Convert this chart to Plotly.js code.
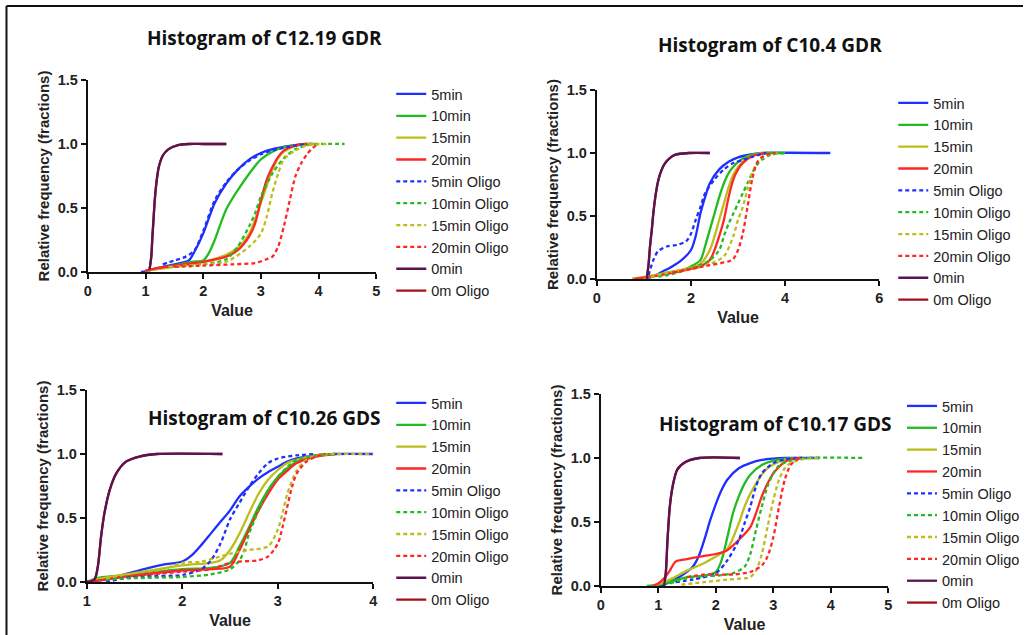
<!DOCTYPE html>
<html><head><meta charset="utf-8">
<script src="https://cdn.plot.ly/plotly-3.0.1.min.js"></script>
<style>html,body{margin:0;padding:0;background:#fff;overflow:hidden}#chart{width:1025px;height:635px}</style>
</head><body><div id="chart"></div>
<script>
// ---------- labels ----------
const seriesNames = ['5min','10min','15min','20min','5min Oligo','10min Oligo','15min Oligo','20min Oligo','0min','0m Oligo'];
const panelTitles = ['Histogram of C12.19 GDR','Histogram of C10.4 GDR','Histogram of C10.26 GDS','Histogram of C10.17 GDS'];
const xAxisTitle = 'Value';
const yAxisTitle = 'Relative frequency (fractions)';
const xTicks1 = [0,1,2,3,4,5];
const xTicks2 = [0,2,4,6];
const xTicks3 = [1,2,3,4];
const xTicks4 = [0,1,2,3,4,5];
const yTicks = [0,0.5,1.0,1.5];

// ---------- Panel 1: C12.19 GDR ----------
const c1219_m5_x  = [0.92,1.0,1.2,1.4,1.6,1.75,1.85,2.0,2.2,2.4,2.6,2.8,3.0,3.2,3.5,3.8,3.9];
const c1219_m5_y  = [0,0.005,0.03,0.05,0.07,0.09,0.16,0.30,0.54,0.69,0.80,0.88,0.93,0.96,0.985,1.0,1.0];
const c1219_m10_x = [1.0,1.5,1.8,2.0,2.1,2.2,2.4,2.6,2.8,3.0,3.2,3.4,3.7,3.9];
const c1219_m10_y = [0.01,0.05,0.08,0.09,0.15,0.25,0.49,0.64,0.77,0.88,0.94,0.975,0.995,1.0];
const c1219_m15_x = [1.0,1.5,2.0,2.4,2.6,2.8,2.9,3.0,3.1,3.2,3.3,3.4,3.6,3.8,4.0];
const c1219_m15_y = [0.01,0.04,0.08,0.135,0.19,0.30,0.41,0.54,0.67,0.80,0.89,0.94,0.985,1.0,1.0];
const c1219_m20_x = [1.0,1.2,1.5,2.0,2.4,2.6,2.8,2.9,3.0,3.1,3.2,3.3,3.4,3.6,3.8];
const c1219_m20_y = [0.01,0.03,0.05,0.08,0.12,0.17,0.28,0.38,0.56,0.72,0.82,0.90,0.95,0.99,1.0];
const c1219_o5_x  = [1.3,1.5,1.7,1.85,2.0,2.2,2.4,2.6,2.8,3.0,3.2,3.5,3.8];
const c1219_o5_y  = [0.06,0.09,0.12,0.17,0.32,0.56,0.70,0.80,0.87,0.92,0.95,0.98,1.0];
const c1219_o10_x = [1.4,2.0,2.4,2.6,2.8,2.9,3.0,3.2,3.4,3.6,3.8,4.0,4.45];
const c1219_o10_y = [0.04,0.06,0.10,0.20,0.36,0.46,0.59,0.77,0.89,0.96,0.99,1.0,1.0];
const c1219_o15_x = [1.4,2.0,2.4,2.8,3.0,3.1,3.2,3.3,3.4,3.6,3.8,4.2];
const c1219_o15_y = [0.04,0.06,0.08,0.20,0.30,0.43,0.62,0.77,0.88,0.95,0.99,1.0];
const c1219_o20_x = [1.5,2.0,2.5,2.9,3.1,3.2,3.3,3.4,3.5,3.6,3.7,3.8,3.9,4.0];
const c1219_o20_y = [0.04,0.05,0.06,0.07,0.10,0.12,0.20,0.36,0.56,0.75,0.85,0.92,0.97,1.0];
const c1219_m0_x  = [1.07,1.10,1.12,1.14,1.16,1.19,1.23,1.30,1.40,1.55,1.75,2.0,2.4];
const c1219_m0_y  = [0.02,0.12,0.28,0.42,0.56,0.70,0.82,0.91,0.96,0.99,1.0,1.0,1.0];
const c1219_o0_x  = [1.07,1.10,1.12,1.14,1.16,1.19,1.23,1.30,1.40,1.55,1.75,2.0,2.4];
const c1219_o0_y  = [0.02,0.12,0.28,0.42,0.56,0.70,0.82,0.91,0.96,0.99,1.0,1.0,1.0];

// ---------- Panel 2: C10.4 GDR ----------
const c104_m5_x  = [0.96,1.2,1.4,1.6,1.8,2.0,2.1,2.2,2.3,2.4,2.6,2.8,3.0,3.3,3.6,4.96];
const c104_m5_y  = [0,0.02,0.06,0.10,0.15,0.23,0.34,0.52,0.65,0.76,0.87,0.93,0.965,0.99,1.0,1.0];
const c104_m10_x = [0.75,1.2,1.5,1.8,2.0,2.2,2.3,2.4,2.5,2.6,2.7,2.8,2.9,3.0,3.2,3.5,4.0];
const c104_m10_y = [0,0.02,0.05,0.07,0.10,0.15,0.26,0.39,0.52,0.65,0.76,0.84,0.89,0.93,0.975,1.0,1.0];
const c104_m15_x = [0.75,1.5,2.0,2.2,2.4,2.5,2.6,2.7,2.8,2.9,3.0,3.2,3.5];
const c104_m15_y = [0,0.05,0.09,0.12,0.23,0.34,0.47,0.60,0.73,0.83,0.89,0.96,1.0];
const c104_m20_x = [0.8,1.5,2.0,2.2,2.4,2.5,2.6,2.7,2.8,2.9,3.0,3.1,3.3,3.6];
const c104_m20_y = [0,0.04,0.08,0.10,0.15,0.23,0.34,0.47,0.65,0.79,0.87,0.92,0.975,1.0];
const c104_o5_x  = [1.1,1.2,1.3,1.5,1.7,1.9,2.0,2.1,2.2,2.3,2.5,2.7,2.9,3.1,3.3,3.6];
const c104_o5_y  = [0.03,0.15,0.22,0.26,0.27,0.30,0.36,0.47,0.57,0.68,0.79,0.87,0.92,0.945,0.97,1.0];
const c104_o10_x = [1.3,1.5,2.0,2.4,2.6,2.7,2.8,2.9,3.0,3.1,3.2,3.3,3.4,3.5,3.7,4.0];
const c104_o10_y = [0.02,0.03,0.085,0.15,0.23,0.34,0.44,0.52,0.60,0.68,0.76,0.84,0.905,0.945,0.985,1.0];
const c104_o15_x = [1.0,1.5,2.0,2.4,2.7,2.9,3.0,3.1,3.2,3.3,3.4,3.5,3.7,3.9];
const c104_o15_y = [0,0.05,0.08,0.12,0.18,0.34,0.47,0.57,0.71,0.84,0.92,0.96,0.99,1.0];
const c104_o20_x = [1.6,2.0,2.4,2.8,2.9,3.0,3.1,3.2,3.3,3.4,3.5,3.6,3.8];
const c104_o20_y = [0.05,0.08,0.11,0.14,0.16,0.23,0.36,0.57,0.79,0.92,0.965,0.985,1.0];
const c104_m0_x  = [1.06,1.10,1.13,1.17,1.20,1.25,1.31,1.38,1.45,1.55,1.66,1.95,2.4];
const c104_m0_y  = [0,0.12,0.26,0.40,0.52,0.67,0.79,0.87,0.92,0.96,0.985,1.0,1.0];
const c104_o0_x  = [1.06,1.10,1.13,1.17,1.20,1.25,1.31,1.38,1.45,1.55,1.66,1.95,2.4];
const c104_o0_y  = [0,0.12,0.26,0.40,0.52,0.67,0.79,0.87,0.92,0.96,0.985,1.0,1.0];

// ---------- Panel 3: C10.26 GDS ----------
const c1026_m5_x  = [1.0,1.2,1.4,1.6,1.8,2.0,2.1,2.2,2.3,2.4,2.5,2.6,2.7,2.8,2.9,3.0,3.1,3.2,3.4,3.6,4.0];
const c1026_m5_y  = [0,0.02,0.06,0.10,0.135,0.16,0.21,0.29,0.38,0.47,0.56,0.67,0.745,0.81,0.86,0.90,0.94,0.965,0.99,1.0,1.0];
const c1026_m10_x = [1.0,1.1,1.5,2.0,2.3,2.5,2.6,2.7,2.8,2.9,3.0,3.1,3.2,3.4,3.6];
const c1026_m10_y = [0,0.03,0.06,0.10,0.11,0.15,0.28,0.43,0.59,0.72,0.82,0.89,0.94,0.985,1.0];
const c1026_m15_x = [1.0,1.1,1.5,2.0,2.3,2.4,2.5,2.6,2.7,2.8,2.9,3.0,3.1,3.3,3.5];
const c1026_m15_y = [0,0.02,0.07,0.13,0.15,0.17,0.25,0.38,0.54,0.69,0.80,0.875,0.93,0.975,1.0];
const c1026_m20_x = [1.0,1.5,2.0,2.3,2.5,2.6,2.7,2.8,2.9,3.0,3.1,3.2,3.4,3.6];
const c1026_m20_y = [0,0.05,0.09,0.10,0.12,0.25,0.41,0.56,0.69,0.80,0.87,0.93,0.98,1.0];
const c1026_o5_x  = [1.2,1.4,1.6,2.0,2.2,2.3,2.4,2.5,2.6,2.7,2.8,2.9,3.0,3.2,3.4];
const c1026_o5_y  = [0,0.03,0.045,0.055,0.10,0.17,0.30,0.49,0.62,0.745,0.85,0.93,0.965,0.99,1.0];
const c1026_o10_x = [1.2,1.5,2.0,2.3,2.5,2.6,2.65,2.7,2.8,2.9,3.0,3.1,3.2,3.4,3.6];
const c1026_o10_y = [0.02,0.03,0.04,0.06,0.10,0.17,0.25,0.38,0.56,0.72,0.82,0.90,0.955,0.99,1.0];
const c1026_o15_x = [1.2,1.5,1.8,2.0,2.2,2.5,2.7,2.9,3.0,3.05,3.1,3.2,3.3,3.4,3.6,4.0];
const c1026_o15_y = [0.03,0.07,0.10,0.15,0.16,0.22,0.25,0.28,0.41,0.54,0.69,0.875,0.955,0.985,1.0,1.0];
const c1026_o20_x = [1.5,2.0,2.3,2.5,2.6,2.8,2.9,3.0,3.05,3.1,3.15,3.2,3.3,3.4,3.5];
const c1026_o20_y = [0.05,0.08,0.10,0.15,0.16,0.17,0.20,0.30,0.43,0.59,0.745,0.85,0.94,0.98,1.0];
const c1026_m0_x  = [1.0,1.08,1.115,1.15,1.185,1.24,1.31,1.41,1.55,1.73,2.42];
const c1026_m0_y  = [0,0.02,0.12,0.36,0.54,0.72,0.85,0.94,0.98,1.0,1.0];
const c1026_o0_x  = [1.0,1.08,1.115,1.15,1.185,1.24,1.31,1.41,1.55,1.73,2.42];
const c1026_o0_y  = [0,0.02,0.12,0.36,0.54,0.72,0.85,0.94,0.98,1.0,1.0];

// ---------- Panel 4: C10.17 GDS ----------
const c1017_m5_x  = [1.01,1.2,1.4,1.6,1.7,1.8,1.9,2.0,2.1,2.2,2.4,2.6,2.8,3.0,3.2,3.8];
const c1017_m5_y  = [0,0.03,0.08,0.15,0.23,0.36,0.51,0.64,0.75,0.83,0.92,0.96,0.985,0.995,1.0,1.0];
const c1017_m10_x = [0.8,1.0,1.2,1.5,1.8,2.0,2.1,2.2,2.3,2.4,2.5,2.6,2.8,3.0,3.2,3.4];
const c1017_m10_y = [0,0.01,0.03,0.07,0.08,0.11,0.20,0.38,0.57,0.70,0.80,0.87,0.945,0.98,0.995,1.0];
const c1017_m15_x = [0.9,1.2,1.5,1.8,2.0,2.2,2.4,2.5,2.6,2.7,2.8,2.9,3.0,3.2,3.5];
const c1017_m15_y = [0,0.05,0.12,0.18,0.23,0.29,0.49,0.62,0.72,0.80,0.87,0.92,0.95,0.985,1.0];
const c1017_m20_x = [0.9,1.0,1.1,1.2,1.3,1.5,1.8,2.0,2.2,2.4,2.6,2.7,2.8,2.9,3.0,3.1,3.2,3.3,3.5];
const c1017_m20_y = [0,0.02,0.06,0.12,0.19,0.21,0.235,0.25,0.28,0.36,0.46,0.57,0.70,0.80,0.88,0.93,0.97,0.99,1.0];
const c1017_o5_x  = [1.3,1.6,2.0,2.2,2.4,2.5,2.6,2.7,2.8,3.0,3.2,3.5];
const c1017_o5_y  = [0.03,0.05,0.10,0.20,0.36,0.49,0.62,0.78,0.88,0.96,0.99,1.0];
const c1017_o10_x = [1.2,1.5,1.8,2.0,2.3,2.5,2.6,2.7,2.8,2.9,3.0,3.1,3.3,3.6,4.58];
const c1017_o10_y = [0.02,0.06,0.08,0.08,0.10,0.15,0.25,0.44,0.62,0.78,0.88,0.94,0.98,1.0,1.0];
const c1017_o15_x = [1.4,1.8,2.2,2.5,2.6,2.7,2.8,2.9,3.0,3.1,3.2,3.3,3.5,3.8];
const c1017_o15_y = [0.01,0.03,0.05,0.06,0.07,0.12,0.25,0.46,0.67,0.83,0.92,0.96,0.99,1.0];
const c1017_o20_x = [1.5,1.8,2.0,2.3,2.6,2.8,2.9,3.0,3.1,3.2,3.3,3.4,3.5];
const c1017_o20_y = [0.07,0.09,0.09,0.09,0.11,0.16,0.23,0.38,0.62,0.83,0.945,0.985,1.0];
const c1017_m0_x  = [1.1,1.13,1.16,1.2,1.25,1.33,1.48,1.71,2.42];
const c1017_m0_y  = [0,0.10,0.36,0.62,0.78,0.91,0.97,1.0,1.0];
const c1017_o0_x  = [1.1,1.13,1.16,1.2,1.25,1.33,1.48,1.71,2.42];
const c1017_o0_y  = [0,0.10,0.36,0.62,0.78,0.91,0.97,1.0,1.0];

// ---------- assemble per panel (order = seriesNames) ----------
const panelX = [
  [c1219_m5_x,c1219_m10_x,c1219_m15_x,c1219_m20_x,c1219_o5_x,c1219_o10_x,c1219_o15_x,c1219_o20_x,c1219_m0_x,c1219_o0_x],
  [c104_m5_x,c104_m10_x,c104_m15_x,c104_m20_x,c104_o5_x,c104_o10_x,c104_o15_x,c104_o20_x,c104_m0_x,c104_o0_x],
  [c1026_m5_x,c1026_m10_x,c1026_m15_x,c1026_m20_x,c1026_o5_x,c1026_o10_x,c1026_o15_x,c1026_o20_x,c1026_m0_x,c1026_o0_x],
  [c1017_m5_x,c1017_m10_x,c1017_m15_x,c1017_m20_x,c1017_o5_x,c1017_o10_x,c1017_o15_x,c1017_o20_x,c1017_m0_x,c1017_o0_x]
];
const panelY = [
  [c1219_m5_y,c1219_m10_y,c1219_m15_y,c1219_m20_y,c1219_o5_y,c1219_o10_y,c1219_o15_y,c1219_o20_y,c1219_m0_y,c1219_o0_y],
  [c104_m5_y,c104_m10_y,c104_m15_y,c104_m20_y,c104_o5_y,c104_o10_y,c104_o15_y,c104_o20_y,c104_m0_y,c104_o0_y],
  [c1026_m5_y,c1026_m10_y,c1026_m15_y,c1026_m20_y,c1026_o5_y,c1026_o10_y,c1026_o15_y,c1026_o20_y,c1026_m0_y,c1026_o0_y],
  [c1017_m5_y,c1017_m10_y,c1017_m15_y,c1017_m20_y,c1017_o5_y,c1017_o10_y,c1017_o15_y,c1017_o20_y,c1017_m0_y,c1017_o0_y]
];
const panelXTicks = [xTicks1,xTicks2,xTicks3,xTicks4];

// ---------- styles & layout geometry ----------
const W = 1025, H = 635;
const lineColors = ['#1f2fff','#22bb22','#bdbd1c','#ff2626','#1f2fff','#22bb22','#bdbd1c','#ff2626','#5a1450','#a0101c'];
const lineDash = ['solid','solid','solid','solid','4px,3px','4px,3px','4px,3px','4px,3px','solid','solid'];
const geo = [
  {x0:88, x1:377, yTop:80, yBot:272, title:[265,38], legend:[392,78]},
  {x0:598,x1:881, yTop:90, yBot:279, title:[772,45], legend:[895,87]},
  {x0:87, x1:374, yTop:390,yBot:582, title:[265,418], legend:[392,387]},
  {x0:602,x1:890, yTop:394,yBot:586, title:[777,424], legend:[904,390]}
];
const px = v => v / W, py = v => 1 - v / H;
const drawOrder = [9,0,1,2,3,4,5,6,7,8];
const sansFont = 'Liberation Sans, Arial, sans-serif';

const traces = [];
const layout = {
  width: W, height: H, margin: {l:0,r:0,t:0,b:0},
  paper_bgcolor: '#fff', plot_bgcolor: 'rgba(0,0,0,0)',
  showlegend: true, annotations: [], shapes: []
};
const tickFont = {family:sansFont, size:14.5, color:'#222', weight:'bold'};
for (let p = 0; p < 4; p++) {
  const sfx = p === 0 ? '' : String(p + 1);
  const g = geo[p];
  const legName = 'legend' + sfx;
  drawOrder.forEach(i => {
    traces.push({
      type:'scatter', mode:'lines', name: seriesNames[i],
      x: panelX[p][i], y: panelY[p][i],
      xaxis: 'x' + sfx, yaxis: 'y' + sfx, legend: legName, legendrank: i + 1,
      line: {color: lineColors[i], width: 2.3, dash: lineDash[i], shape:'spline', smoothing:0.8},
      hoverinfo: 'skip'
    });
  });
  const xt = panelXTicks[p];
  layout['xaxis' + sfx] = {
    domain: [px(g.x0), px(g.x1)], range: [xt[0], xt[xt.length-1]], anchor: 'y' + sfx,
    tickvals: xt, ticktext: xt.map(String), showgrid:false, zeroline:false,
    showline:true, linecolor:'#111', linewidth:2, ticks:'outside', ticklen:5, tickwidth:2, tickcolor:'#111',
    tickfont: tickFont, fixedrange:true,
    title: {text: xAxisTitle, font:{family:sansFont, size:16, color:'#222', weight:'bold'}, standoff:6}
  };
  layout['yaxis' + sfx] = {
    domain: [py(g.yBot), py(g.yTop)], range: [0, 1.5], anchor: 'x' + sfx,
    tickvals: yTicks, tickformat: '.1f', showgrid:false, zeroline:false,
    showline:true, linecolor:'#111', linewidth:2, ticks:'outside', ticklen:5, tickwidth:2, tickcolor:'#111',
    tickfont: tickFont, fixedrange:true,
    title: {text: yAxisTitle, font:{family:sansFont, size:15, color:'#222', weight:'bold'}, standoff:5}
  };
  layout[legName] = {
    x: px(g.legend[0]), y: py(g.legend[1]), xanchor:'left', yanchor:'top',
    bgcolor:'rgba(0,0,0,0)', borderwidth:0,
    font: {family:sansFont, size:14.5, color:'#222'},
    tracegroupgap: 0, traceorder:'normal'
  };
  layout.annotations.push({
    text: panelTitles[p], xref:'paper', yref:'paper', x: px(g.title[0]), y: py(g.title[1]),
    xanchor:'center', yanchor:'middle', showarrow:false,
    font: {family:'Open Sans, sans-serif', size:19, color:'#111', weight:'bold'}
  });
}
layout.shapes.push({type:'line', xref:'paper', yref:'paper', x0:px(6.5), x1:px(6.5), y0:0, y1:py(6), line:{color:'#111', width:2}});
layout.shapes.push({type:'line', xref:'paper', yref:'paper', x0:px(6.5), x1:1, y0:py(6), y1:py(6), line:{color:'#111', width:2}});

Plotly.newPlot('chart', traces, layout, {staticPlot:true, displayModeBar:false});
</script>
</body></html>
